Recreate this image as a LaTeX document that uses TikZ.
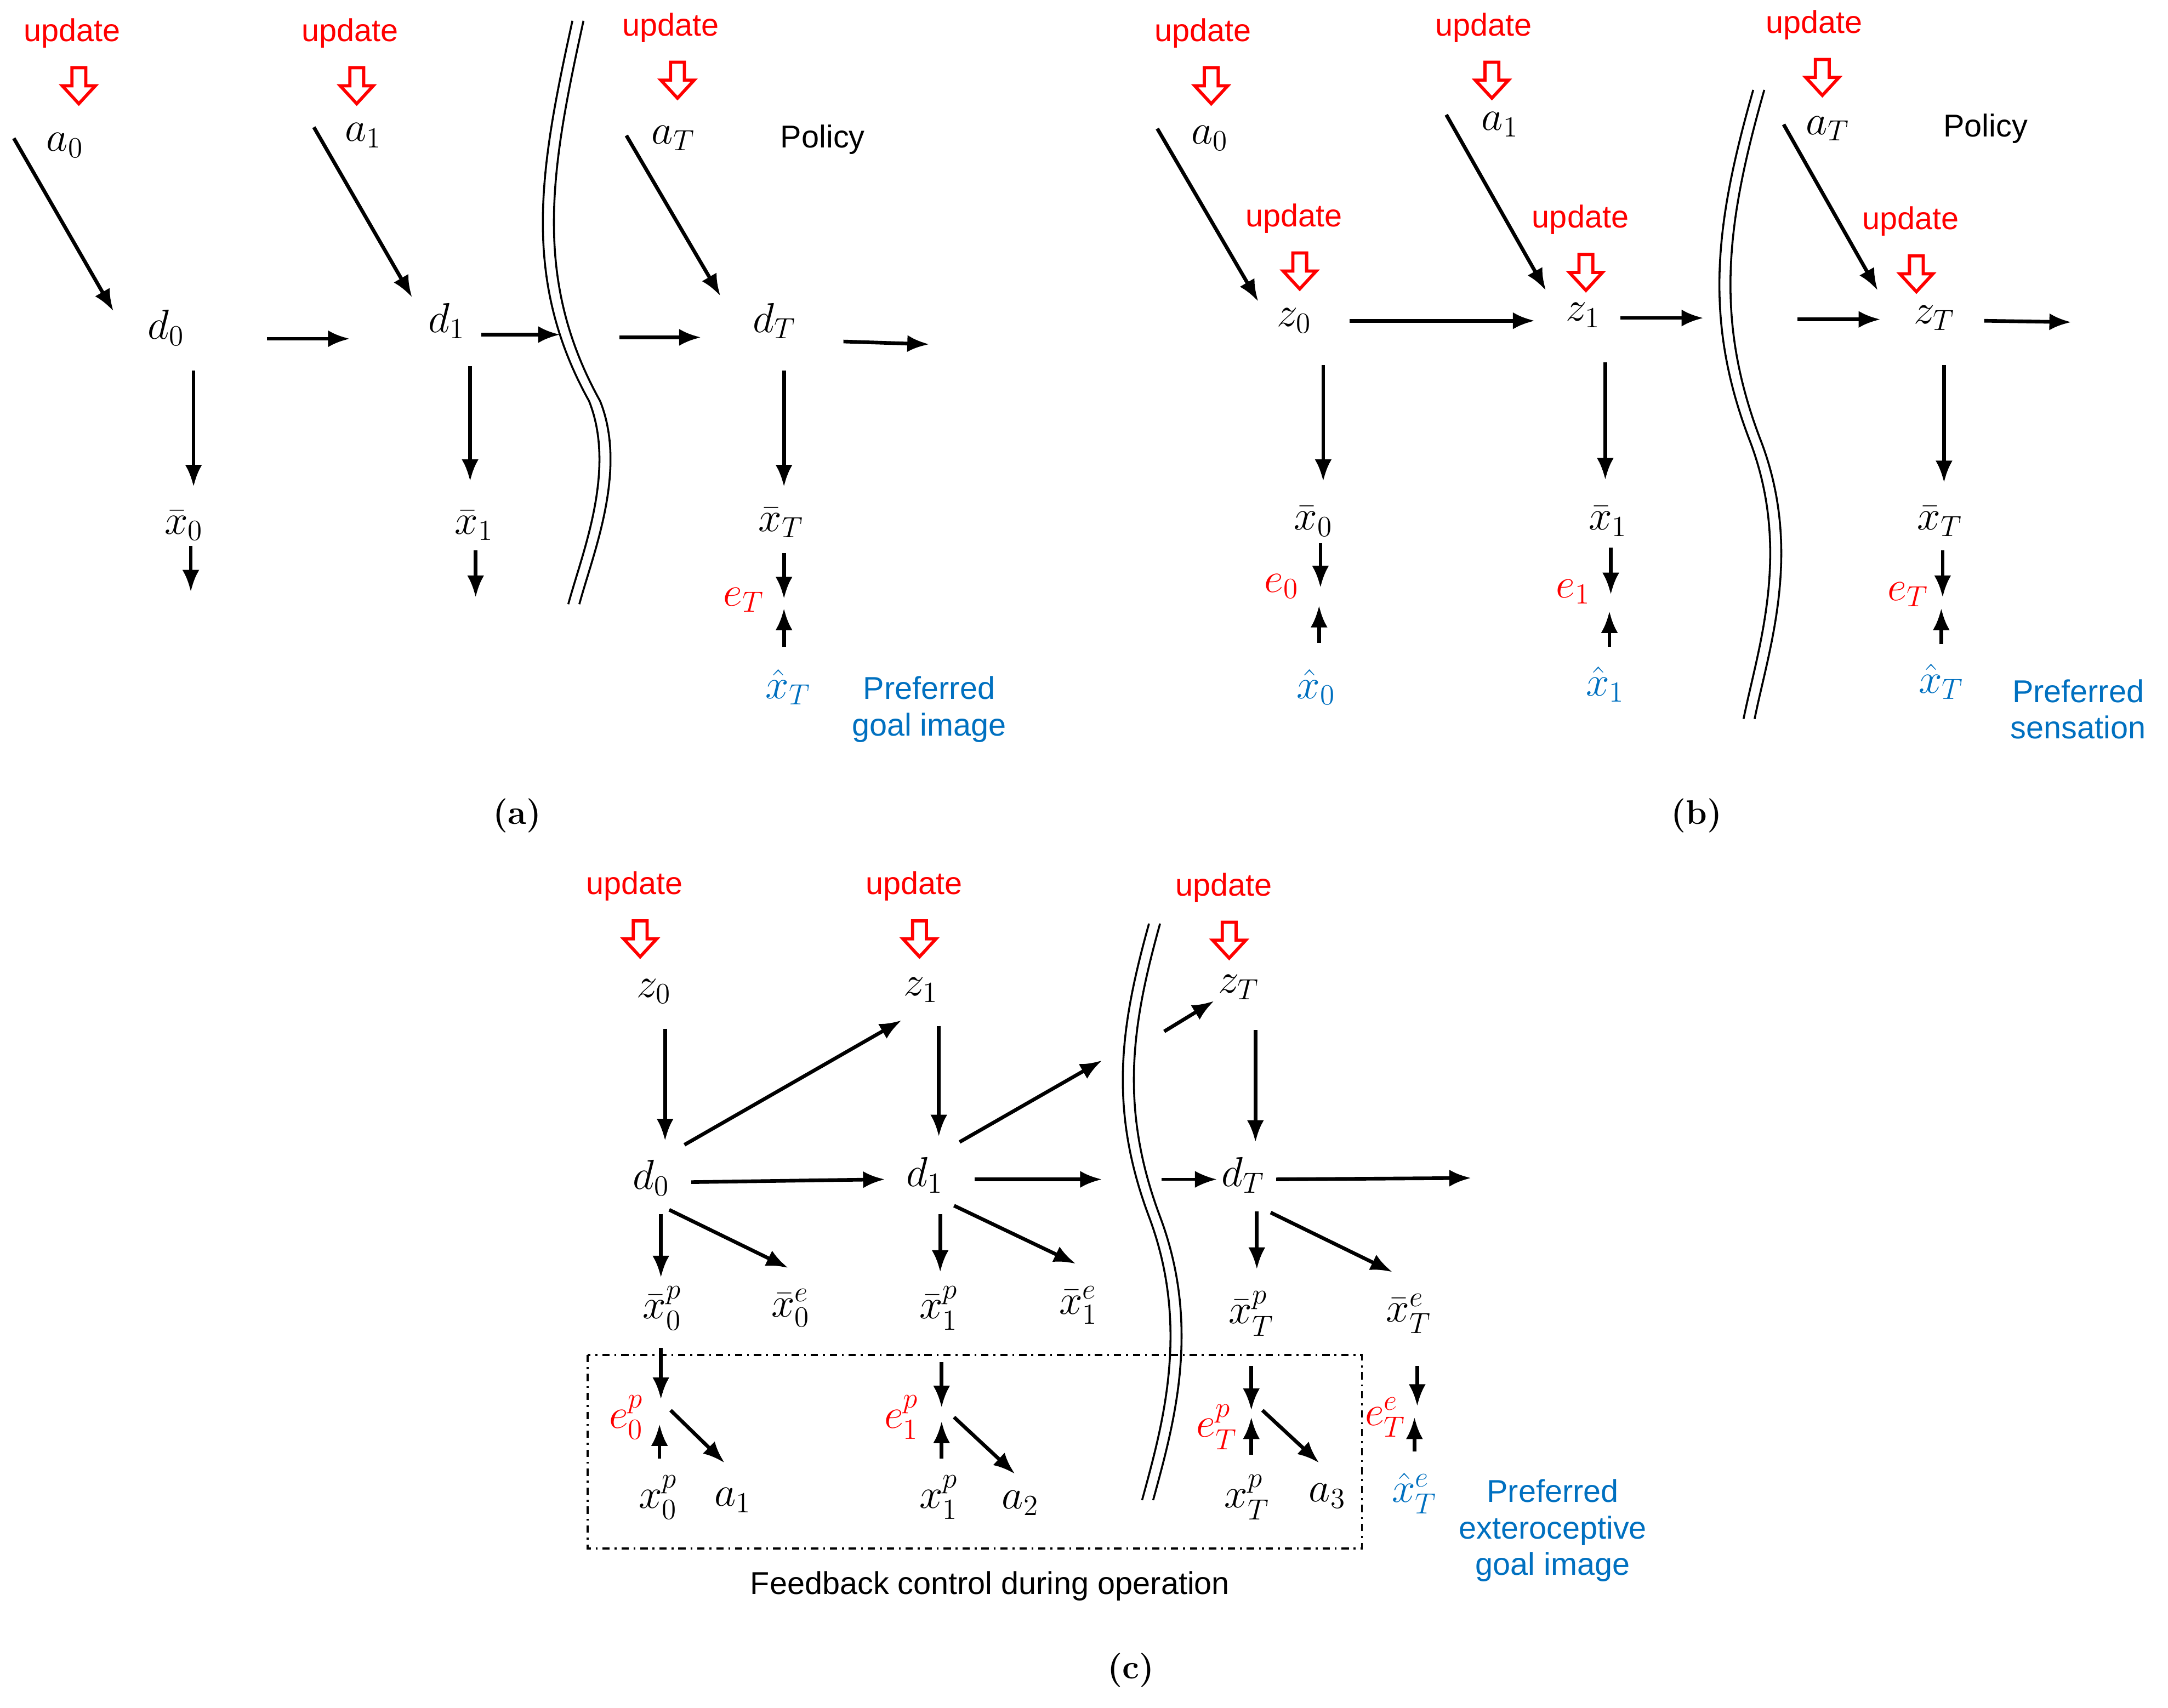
\documentclass[tikz,border=0pt]{standalone}
\usepackage{amsmath}
\usepackage{fontspec}
\setsansfont{Liberation Sans}
\usetikzlibrary{arrows.meta}
\definecolor{upred}{RGB}{255,0,0}
\definecolor{goalblue}{RGB}{0,112,192}
\tikzset{
  arr/.style={line width=1.5pt,-{Latex[length=9pt,width=7pt]}},
  lbl/.style={font=\fontsize{13}{15}\selectfont\sffamily},
  upd/.style={lbl,text=upred},
  var/.style={font=\fontsize{17}{19}\selectfont},
  err/.style={var,text=upred},
  goal/.style={var,text=goalblue},
  gtext/.style={lbl,text=goalblue,align=center},
  panel/.style={font=\fontsize{14}{16}\selectfont\bfseries\rmfamily},
}
% hollow update arrow, tip at the bottom
\newcommand{\updarrow}[2]{%
  \draw[upred,line width=1.3pt] (#1-5,#2-13) -- (#1+5,#2-13) -- (#1+5,#2) -- (#1+12,#2) -- (#1,#2+13)
    -- (#1-12,#2) -- (#1-5,#2) -- cycle;}
\newcommand{\update}[4]{\node[upd] (#1) at (#2,#3) {update}; \updarrow{#4}{#3+38}}
\begin{document}
\begin{tikzpicture}[x=0.02cm,y=-0.02cm]
\useasboundingbox (0,0) rectangle (1568,1235);
% ---------------- (a)
\update{ua0}{52}{24}{57}
\update{ua1}{253}{24}{258}
\update{uaT}{485}{20}{490}
\node[var] (aa0) at (47,105) {$a_0$};
\node[var] (aa1) at (263,98) {$a_1$};
\node[var] (aaT) at (487,100) {$a_T$};
\node[lbl] (apol) at (595,101) {Policy};
\node[var] (ad0) at (120,237) {$d_0$};
\node[var] (ad1) at (323,232) {$d_1$};
\node[var] (adT) at (560,232) {$d_T$};
\draw[arr] (10,100) -- (82,225);
\draw[arr] (227,92) -- (298,215);
\draw[arr] (453,98) -- (521,214);
\draw[arr] (193,245) -- (253,245);
\draw[arr] (348,242) -- (405,242);
\draw[arr] (448,244) -- (507,244);
\draw[arr] (610,247) -- (672,249);
\node[var] (ax0) at (133,380) {$\bar{x}_0$};
\node[var] (ax1) at (343,380) {$\bar{x}_1$};
\node[var] (axT) at (565,378) {$\bar{x}_T$};
\draw[arr] (140,268) -- (140,352);
\draw[arr] (138,395) -- (138,428);
\draw[arr] (340,265) -- (340,348);
\draw[arr] (344,398) -- (344,432);
\draw[arr] (567,268) -- (567,352);
\draw[arr] (567,400) -- (567,433);
\node[err] (aeT) at (538,434) {$e_T$};
\draw[arr] (567,468) -- (567,440);
\node[goal] (agT) at (570,497) {$\hat{x}_T$};
\node[gtext] (apref) at (672,513) {Preferred\\goal image};
\foreach \o in {-4,4}
  \draw[line width=0.8pt] (418+\o,15) .. controls (395+\o,120) and (380+\o,200) .. (430+\o,290)
     .. controls (450+\o,340) and (425+\o,400) .. (415+\o,437);
\node[panel] (acap) at (374,590) {(a)};
% ---------------- (b)
\update{ub0}{870}{24}{876}
\update{ub1}{1073}{20}{1079}
\update{ubT}{1312}{18}{1318}
\update{ubz0}{936}{158}{940}
\update{ubz1}{1143}{159}{1147}
\update{ubzT}{1382}{160}{1386}
\node[var] (ba0) at (875,100) {$a_0$};
\node[var] (ba1) at (1085,90) {$a_1$};
\node[var] (baT) at (1322,93) {$a_T$};
\node[lbl] (bpol) at (1436,93) {Policy};
\node[var] (bz0) at (936,232) {$z_0$};
\node[var] (bz1) at (1145,228) {$z_1$};
\node[var] (bzT) at (1399,230) {$z_T$};
\draw[arr] (837,93) -- (910,218);
\draw[arr] (1046,83) -- (1118,210);
\draw[arr] (1290,90) -- (1358,210);
\draw[arr] (976,232) -- (1110,232);
\draw[arr] (1172,230) -- (1232,230);
\draw[arr] (1300,231) -- (1360,231);
\draw[arr] (1435,232) -- (1498,233);
\node[var] (bx0) at (950,377) {$\bar{x}_0$};
\node[var] (bx1) at (1163,377) {$\bar{x}_1$};
\node[var] (bxT) at (1403,377) {$\bar{x}_T$};
\draw[arr] (957,264) -- (957,348);
\draw[arr] (955,393) -- (955,425);
\draw[arr] (954,465) -- (954,438);
\draw[arr] (1161,262) -- (1161,347);
\draw[arr] (1165,396) -- (1165,430);
\draw[arr] (1164,468) -- (1164,442);
\draw[arr] (1406,264) -- (1406,349);
\draw[arr] (1405,398) -- (1405,432);
\draw[arr] (1404,466) -- (1404,440);
\node[err] (be0) at (927,424) {$e_0$};
\node[err] (be1) at (1138,428) {$e_1$};
\node[err] (beT) at (1380,430) {$e_T$};
\node[goal] (bg0) at (952,497) {$\hat{x}_0$};
\node[goal] (bg1) at (1161,495) {$\hat{x}_1$};
\node[goal] (bgT) at (1404,493) {$\hat{x}_T$};
\node[gtext] (bpref) at (1503,513) {Preferred\\sensation};
\foreach \o in {-4,4}
  \draw[line width=0.8pt] (1272+\o,65) .. controls (1245+\o,160) and (1235+\o,230) .. (1270+\o,320)
     .. controls (1300+\o,400) and (1275+\o,470) .. (1265+\o,520);
\node[panel] (bcap) at (1227,590) {(b)};
% ---------------- (c)
\update{uc0}{459}{641}{463}
\update{uc1}{661}{641}{665}
\update{ucT}{885}{642}{889}
\node[var] (cz0) at (473,717) {$z_0$};
\node[var] (cz1) at (666,716) {$z_1$};
\node[var] (czT) at (896,714) {$z_T$};
\node[var] (cd0) at (471,852) {$d_0$};
\node[var] (cd1) at (669,850) {$d_1$};
\node[var] (cdT) at (899,850) {$d_T$};
\draw[arr] (481,744) -- (481,825);
\draw[arr] (495,828) -- (652,738);
\draw[arr] (500,855) -- (640,853);
\draw[arr] (679,742) -- (679,822);
\draw[arr] (694,826) -- (797,767);
\draw[arr] (705,853) -- (797,853);
\draw[arr] (842,746) -- (878,724);
\draw[arr,line width=1pt] (840,853) -- (880,853);
\draw[arr] (908,745) -- (908,826);
\draw[arr] (923,853) -- (1064,852);
\node[var] (cxp0) at (479,946) {$\bar{x}^p_0$};
\node[var] (cxe0) at (572,946) {$\bar{x}^e_0$};
\node[var] (cxp1) at (679,946) {$\bar{x}^p_1$};
\node[var] (cxe1) at (780,944) {$\bar{x}^e_1$};
\node[var] (cxpT) at (905,950) {$\bar{x}^p_T$};
\node[var] (cxeT) at (1019,950) {$\bar{x}^e_T$};
\draw[arr] (478,878) -- (478,924);
\draw[arr] (484,875) -- (570,917);
\draw[arr] (680,878) -- (680,920);
\draw[arr] (690,872) -- (778,914);
\draw[arr] (909,876) -- (909,918);
\draw[arr] (919,877) -- (1007,920);
\draw[line width=0.8pt,dash dot] (425,980) rectangle (985,1120);
\node[err] (cep0) at (453,1025) {$e^p_0$};
\node[err] (cep1) at (652,1025) {$e^p_1$};
\node[err] (cepT) at (880,1032) {$e^p_T$};
\node[err] (ceeT) at (1002,1025) {$e^e_T$};
\node[var] (cp0) at (476,1083) {$x^p_0$};
\node[var] (cp1) at (679,1083) {$x^p_1$};
\node[var] (cpT) at (902,1083) {$x^p_T$};
\node[var] (ca1) at (530,1085) {$a_1$};
\node[var] (ca2) at (738,1087) {$a_2$};
\node[var] (ca3) at (960,1082) {$a_3$};
\node[goal] (cgT) at (1023,1080) {$\hat{x}^e_T$};
\draw[arr] (478,975) -- (478,1012);
\draw[arr] (477,1055) -- (477,1030);
\draw[arr] (485,1020) -- (524,1058);
\draw[arr] (681,985) -- (681,1018);
\draw[arr] (681,1055) -- (681,1028);
\draw[arr] (690,1025) -- (734,1066);
\draw[arr] (905,988) -- (905,1020);
\draw[arr] (905,1052) -- (905,1025);
\draw[arr] (913,1020) -- (954,1058);
\draw[arr] (1025,988) -- (1025,1017);
\draw[arr] (1023,1050) -- (1023,1025);
\node[gtext] (cpref) at (1123,1107) {Preferred\\exteroceptive\\goal image};
\node[lbl] (cfb) at (716,1147) {Feedback control during operation};
\foreach \o in {-4,4}
  \draw[line width=0.8pt] (835+\o,668) .. controls (815+\o,740) and (805+\o,800) .. (835+\o,880)
     .. controls (865+\o,960) and (845+\o,1030) .. (830+\o,1085);
\node[panel] (ccap) at (818,1208) {(c)};
\end{tikzpicture}
\end{document}
